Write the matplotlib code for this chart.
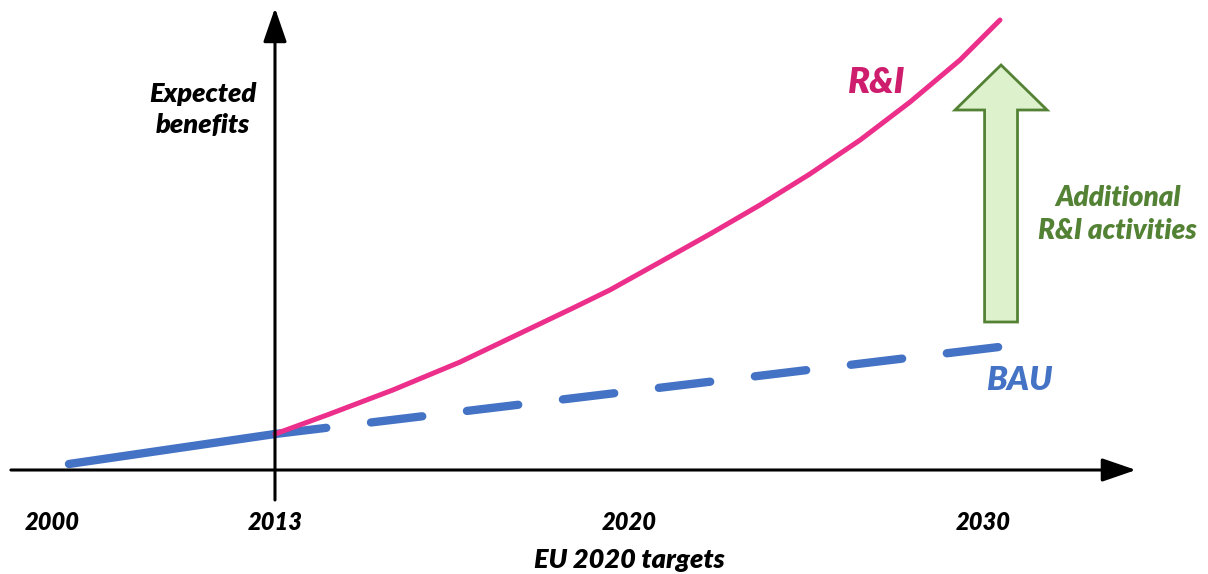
import matplotlib
matplotlib.use("Agg")
import matplotlib.pyplot as plt
from matplotlib.patches import FancyArrow

# tick labels along the time axis (positions are layout units: 2013 = 0)
year_labels = ["2000", "2013", "2020", "2030"]
year_pos = [-0.63, 0.0, 1.0, 2.0]

# business as usual: observed part, then projection
bau_hist_x = [-0.582, 0.0]
bau_hist_y = [0.06, 0.36]
bau_proj_x = [0.0, 2.045]
bau_proj_y = [0.36, 1.23]

# R&I scenario
ri_x = [0.0, 0.147, 0.333, 0.523, 0.712, 0.842, 0.946, 1.088, 1.229,
        1.370, 1.511, 1.653, 1.794, 1.935, 2.048]
ri_y = [0.36, 0.55, 0.80, 1.08, 1.40, 1.62, 1.80, 2.08, 2.36,
        2.65, 2.96, 3.30, 3.68, 4.10, 4.50]

# extra benefit arrow (from BAU level up towards R&I)
gap_x = 2.051
gap_from = 1.48
gap_to = 4.05

BLUE = "#4472C4"
PINK = "#EC2F8A"
PINK_TXT = "#CF1D6E"
GREEN = "#548235"
GREEN_FILL = "#DDF1CD"

plt.rcParams["font.family"] = ["Lato", "DejaVu Sans"]
font = dict(fontweight="heavy", fontstyle="italic")

fig = plt.figure(figsize=(12.08, 5.74), dpi=100)
ax = fig.add_axes([0, 0, 1, 1])
ax.set_xlim(-0.7768, 2.6356)
ax.set_ylim(-1.04, 4.70)
ax.axis("off")

# axes with arrow heads
head = "-|>,head_length=1.45,head_width=0.5"
ax.annotate("", xy=(2.432, 0), xytext=(-0.746, 0),
            arrowprops=dict(arrowstyle=head, mutation_scale=14.4, lw=2.2,
                            color="black", shrinkA=0, shrinkB=0))
ax.annotate("", xy=(0, 4.62), xytext=(0, -0.30),
            arrowprops=dict(arrowstyle=head, mutation_scale=14.4, lw=2.2,
                            color="black", shrinkA=0, shrinkB=0))

# BAU
ax.plot(bau_hist_x, bau_hist_y, color=BLUE, lw=6, solid_capstyle="round")
bau, = ax.plot(bau_proj_x, bau_proj_y, color=BLUE, lw=6,
               dash_capstyle="round")
bau.set_dashes([6.2, 5.4])

# R&I
ax.plot(ri_x, ri_y, color=PINK, lw=3.6, solid_capstyle="round",
        solid_joinstyle="round")

# green block arrow
ax.add_patch(FancyArrow(gap_x, gap_from, 0, gap_to - gap_from, width=0.093,
                        head_width=0.26, head_length=0.45,
                        length_includes_head=True, facecolor=GREEN_FILL,
                        edgecolor=GREEN, lw=2))

for lab, x in zip(year_labels, year_pos):
    ax.text(x, -0.52, lab, ha="center", va="center", fontsize=17, **font)

ax.text(1.0, -0.90, "EU 2020 targets", ha="center", va="center",
        fontsize=19.5, **font)
ax.text(-0.203, 3.605, "Expected\nbenefits", ha="center", va="center",
        fontsize=19.5, linespacing=1.37, **font)
ax.text(1.70, 3.88, "R&I", ha="center", va="center", fontsize=26,
        color=PINK_TXT, **font)
ax.text(2.102, 0.90, "BAU", ha="center", va="center", fontsize=24,
        color=BLUE, **font)
ax.text(2.381, 2.555, "Additional\nR&I activities", ha="center",
        va="center", fontsize=20, linespacing=1.37, color=GREEN, **font)

fig.savefig("out.png", dpi=100)
plt.close(fig)
